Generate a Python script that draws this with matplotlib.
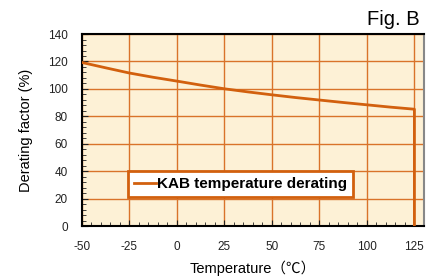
import matplotlib
matplotlib.use("Agg")
import matplotlib.pyplot as plt
from matplotlib.ticker import MultipleLocator

plt.rcParams['font.family'] = ['Liberation Sans', 'Noto Sans CJK JP', 'DejaVu Sans']
plt.rcParams['axes.unicode_minus'] = False

# dados
temperatura = [-50, -37.5, -25, -12.5, 0, 12.5, 25, 37.5, 50, 62.5, 75, 87.5, 100, 112.5, 125, 125]
fator = [119.3, 115.4, 111.6, 108.5, 105.7, 102.8, 100.1, 97.8, 95.7, 93.7, 91.9, 90.1, 88.4, 86.7, 85.2, 0]
x_ticks = [-50, -25, 0, 25, 50, 75, 100, 125]
y_ticks = [0, 20, 40, 60, 80, 100, 120, 140]

cor_linha = "#d2600e"
cor_grade = "#d9732a"

fig = plt.figure(figsize=(4.33, 2.77), dpi=100)
ax = fig.add_axes([0.189, 0.184, 0.79, 0.693])
ax.set_facecolor("#fdf1d6")

ax.plot(temperatura, fator, color=cor_linha, lw=2, label="KAB temperature derating", zorder=3)

ax.set_xlim(-50, 130)
ax.set_ylim(0, 140)
ax.set_xticks(x_ticks)
ax.set_yticks(y_ticks)
ax.xaxis.set_minor_locator(MultipleLocator(5))
ax.yaxis.set_minor_locator(MultipleLocator(4))
ax.grid(True, which="major", color=cor_grade, lw=1)
ax.tick_params(which="both", direction="in", labelsize=8.5, colors="#222222")
ax.tick_params(which="major", length=4)
ax.tick_params(which="minor", length=3)
ax.tick_params(axis="x", pad=11)
ax.tick_params(axis="y", pad=10)
ax.tick_params(top=False, right=False, which="both")

for lado in ["left", "bottom", "top"]:
    ax.spines[lado].set_color("black")
    ax.spines[lado].set_linewidth(1.5)
ax.spines["right"].set_color("#888888")
ax.spines["right"].set_linewidth(1.5)

ax.set_xlabel("Temperature（℃）", fontsize=10.5, labelpad=5)
ax.set_ylabel("Derating factor (%)", fontsize=10.5, labelpad=11)

fig.text(0.968, 0.895, "Fig. B", ha="right", va="bottom", fontsize=14.5)

leg = ax.legend(loc="lower left", bbox_to_anchor=(0.135, 0.15), frameon=True, fancybox=False,
                prop={"weight": "bold", "size": 11}, handlelength=1.4, handletextpad=0.1,
                borderpad=0.4, borderaxespad=0)
leg.get_frame().set_edgecolor(cor_linha)
leg.get_frame().set_linewidth(2)
leg.get_frame().set_alpha(1)

fig.savefig("out.png", dpi=100)
